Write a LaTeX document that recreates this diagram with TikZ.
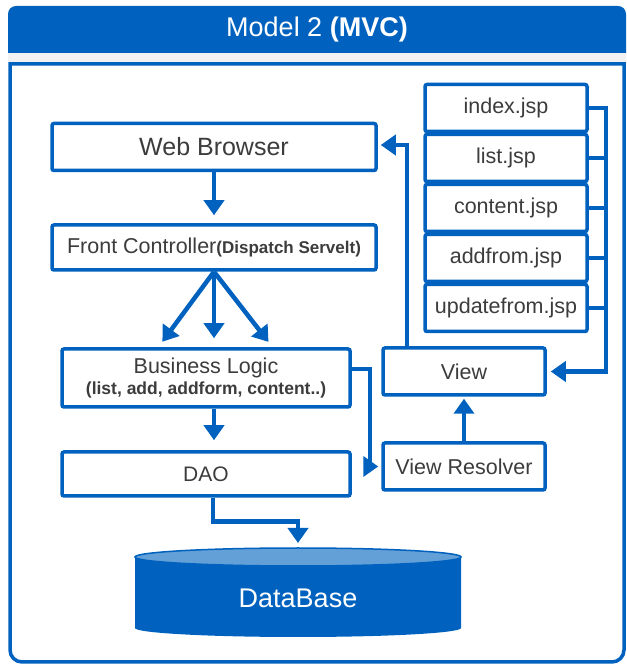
\documentclass[tikz,border=0pt]{standalone}
\usepackage{fontspec}
\setmainfont{Liberation Sans}
\usetikzlibrary{arrows.meta}
\definecolor{mvcblue}{RGB}{0,98,190}
\definecolor{mvclight}{RGB}{100,160,216}
\definecolor{mvctext}{RGB}{60,60,60}

\begin{document}
\begin{tikzpicture}[x=1pt,y=1pt,
  box/.style={draw=mvcblue,line width=3.5pt,rounded corners=2pt,fill=white,text=mvctext,
    inner sep=0pt,minimum height=47pt,font=\fontsize{21.5}{24}\selectfont},
  jspbox/.style={box,minimum width=162pt},
  arr/.style={draw=mvcblue,line width=4.5pt,-{Triangle[width=20pt,length=15pt]}},
  link/.style={draw=mvcblue,line width=4.5pt}]
\useasboundingbox (0,0) rectangle (627,665);
% frame
\fill[mvcblue] (8,612) -- (8,651) arc[start angle=180,end angle=90,radius=8]
  -- (618,659) arc[start angle=90,end angle=0,radius=8] -- (626,612) -- cycle;
\fill[black!5] (8,603) rectangle (626,612);
\draw[mvcblue,line width=3.5pt] (10,601) -- (10,15) arc[start angle=180,end angle=270,radius=12]
  -- (612,3) arc[start angle=270,end angle=360,radius=12] -- (624,601) -- cycle;
\node[text=white,font=\fontsize{27}{30}\selectfont] (title) at (317,635) {Model 2 \textbf{(MVC)}};
%
% left column
%
\node[box,minimum width=324pt,font=\fontsize{25}{28}\selectfont] (browser) at (214,518) {Web Browser};
\node[box,minimum width=324pt,minimum height=45pt] (front) at (214,417.5)
  {Front Controller{\bfseries\fontsize{17}{20}\selectfont(Dispatch Servelt)}};
\node[box,minimum width=288pt,minimum height=58pt,align=center] (logic) at (206,287)
  {Business Logic\\[-3pt]{\bfseries\fontsize{17.5}{20}\selectfont(list, add, addform, content..)}};
\node[box,minimum width=288pt,minimum height=44pt,font=\fontsize{21}{24}\selectfont] (dao) at (206,191) {DAO};
%
% database
\fill[mvcblue] (135,108) -- (135,37) arc[start angle=180,end angle=360,x radius=163,y radius=9]
  -- (461,108) arc[start angle=0,end angle=180,x radius=163,y radius=9] -- cycle;
\fill[mvclight,draw=mvcblue,line width=1.5pt] (298,108) ellipse[x radius=163,y radius=9];
\node[text=white,font=\fontsize{27}{30}\selectfont] (db) at (298,67) {DataBase};
\coordinate (dbtop) at (298,117);
%
% right column
%
\node[jspbox] (jsp1) at (506,557) {index.jsp};
\node[jspbox] (jsp2) at (506,507) {list.jsp};
\node[jspbox] (jsp3) at (506,457) {content.jsp};
\node[jspbox] (jsp4) at (506,407) {addfrom.jsp};
\node[jspbox] (jsp5) at (506,357) {updatefrom.jsp};
\node[box,minimum width=162pt] (view) at (464,293.5) {View};
\node[box,minimum width=162pt] (resolver) at (464,198.5) {View Resolver};
\coordinate (bus) at (608,0);
%
% arrows
%
\draw[arr,shorten >=8pt] (browser.south) -- (front.north);
\draw[arr,shorten >=9pt] (front.south) -- (157,316);
\draw[arr,shorten >=9pt] (front.south) -- (front.south |- logic.north);
\draw[arr,shorten >=9pt] (front.south) -- (274,316);
\draw[arr,shorten >=10pt] ([xshift=8pt]logic.south) -- ([xshift=8pt]dao.north);
\draw[arr,shorten >=5pt] ([xshift=7pt]dao.south) -- ++(0,-24) -| (dbtop);
\draw[arr,shorten >=3pt] ([yshift=9pt]logic.east) -- ++(18,0) |- (resolver.west);
\draw[arr,shorten >=2pt] (resolver.north) -- (view.south);
\draw[arr,shorten >=3pt] ([xshift=-57pt]view.north) |- ([yshift=2pt]browser.east);
\foreach \i in {1,...,5}
  \draw[link] (jsp\i.east) -- (jsp\i.east -| bus);
\draw[arr,shorten >=4pt] ([xshift=-2.25pt]jsp1.east -| bus) |- (view.east);
\end{tikzpicture}
\end{document}
